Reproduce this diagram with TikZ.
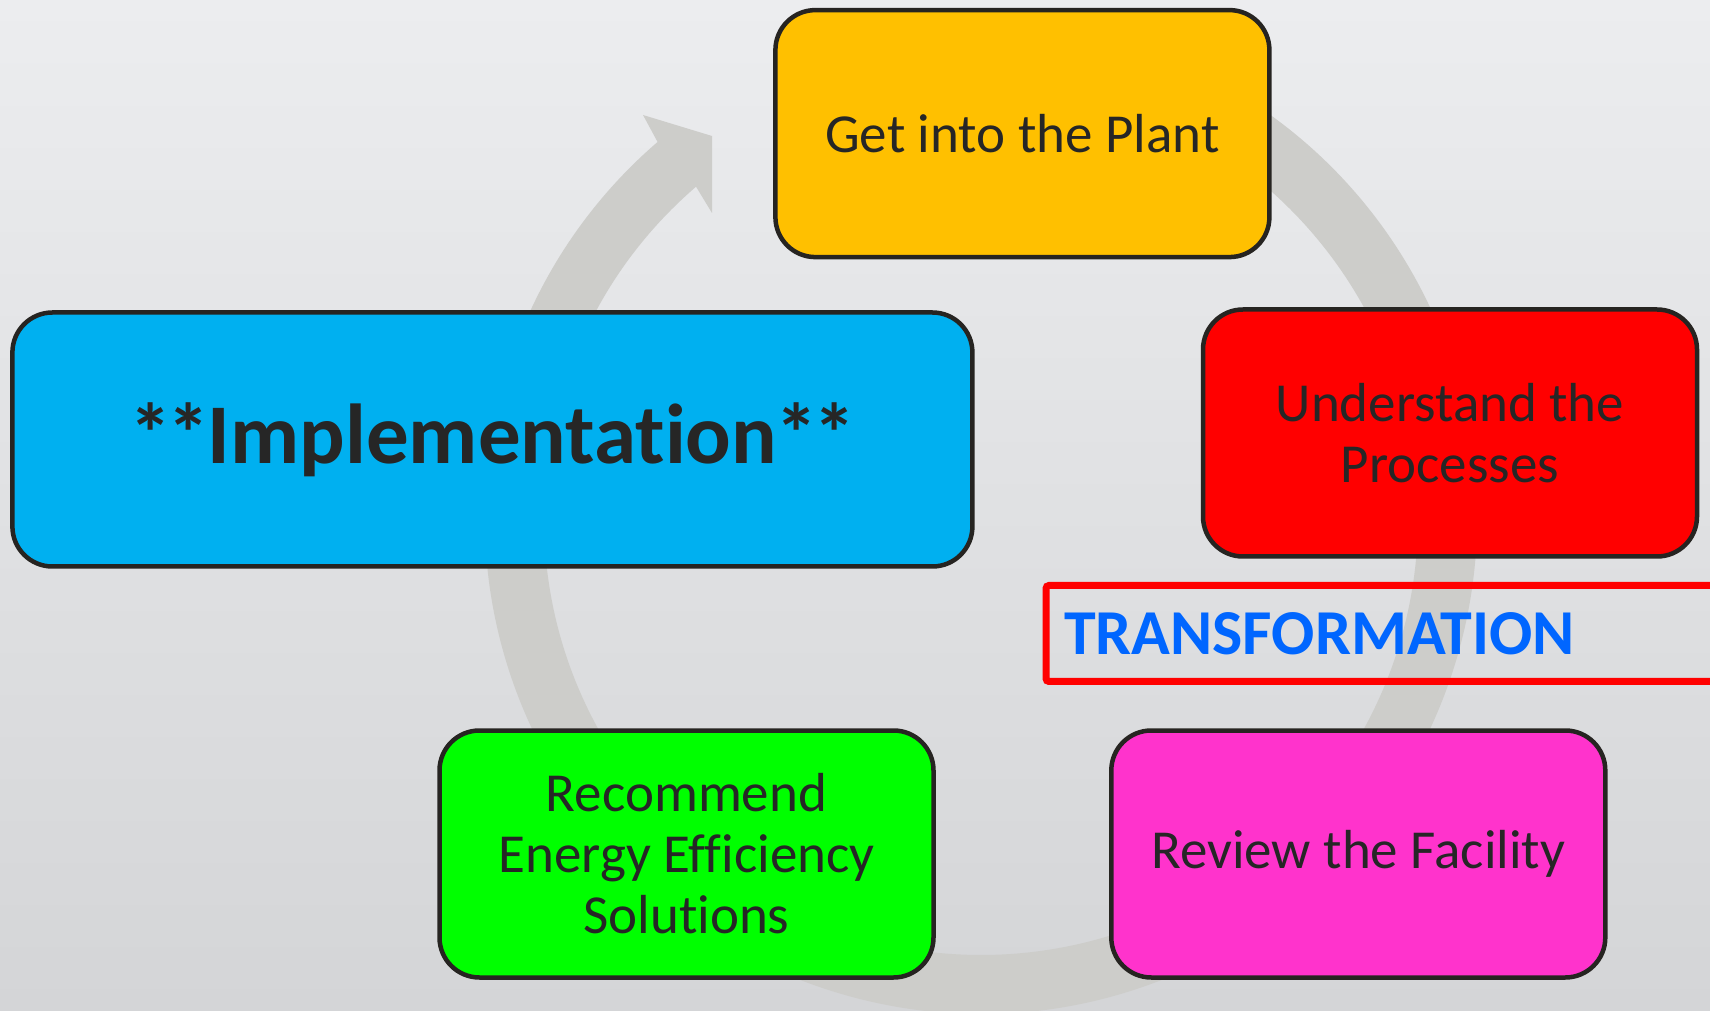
\documentclass[tikz,border=0pt]{standalone}
\usepackage{fontspec}
\setmainfont{Carlito}[Ligatures=NoCommon]
\usetikzlibrary{calc}
\definecolor{bgtop}{RGB}{236,237,239}
\definecolor{bgbot}{RGB}{212,213,215}
\definecolor{ringc}{RGB}{205,205,202}
\definecolor{boxline}{RGB}{38,36,33}
\definecolor{txt}{RGB}{38,38,38}
\definecolor{cyellow}{RGB}{255,192,0}
\definecolor{cred}{RGB}{255,0,0}
\definecolor{cblue}{RGB}{0,176,240}
\definecolor{cgreen}{RGB}{0,255,0}
\definecolor{cpink}{RGB}{255,51,204}
\definecolor{ctf}{RGB}{0,102,255}
\begin{document}
\begin{tikzpicture}[x=1pt,y=1pt,
  stepbox/.style={draw=boxline, line width=4.5pt, rounded corners=40pt,
    minimum width=494pt, minimum height=247pt, text=txt, align=center,
    font=\fontsize{55}{61}\selectfont, inner sep=0pt}]
\clip (0,0) rectangle (1710,1010);
\shade[top color=bgtop, bottom color=bgbot] (0,0) rectangle (1710,1010);
\coordinate (C) at (981,492);
\coordinate (hb1) at (643,895);
\coordinate (htip) at (712,874);
\coordinate (hb2) at (712,797);
\fill[ringc] ($(C)+(75:496)$) arc[start angle=75,end angle=-229.3,radius=496]
  -- (hb1) -- (htip) -- (hb2) -- ($(C)+(130.7:437)$)
  arc[start angle=130.7,end angle=435,radius=437] -- cycle;
\node[stepbox, fill=cyellow] (plant) at (1022.4,876.4) {Get into the Plant};
\node[stepbox, fill=cred] (proc) at (1450,577) {Understand the\\Processes};
\node[stepbox, fill=cblue, minimum width=960pt, minimum height=254pt,
  font=\fontsize{85}{90}\selectfont\bfseries] (impl) at (492.4,570.5) {\raisebox{-2pt}{*\kern-4pt*\kern-2pt Implementation\kern-2pt*\kern-4pt*}};
\node[stepbox, fill=cgreen] (rec) at (686.5,156) {Recommend\\Energy Efficiency\\Solutions};
\node[stepbox, fill=cpink] (rev) at (1358.3,156) {Review the Facility};
\node[draw=red, line width=7pt, rounded corners=3pt, anchor=west, minimum height=96pt,
  text width=690pt, inner xsep=18pt, align=left, text=ctf,
  font=\fontsize{64}{70}\selectfont\bfseries] (tf) at (1042.5,376.5) {TRANSFORMATION};
\end{tikzpicture}
\end{document}
